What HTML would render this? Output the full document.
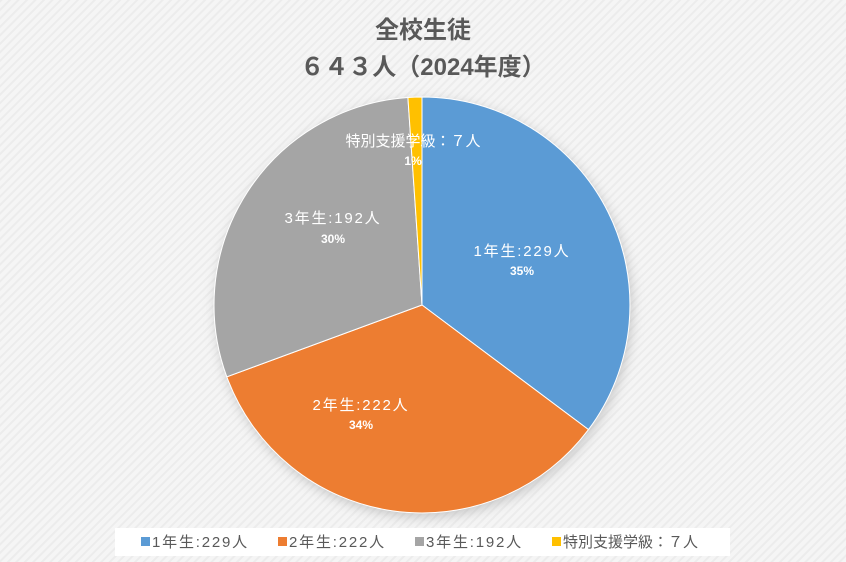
<!DOCTYPE html>
<html><head><meta charset="utf-8"><style>
body{margin:0;width:846px;height:562px;overflow:hidden;background:#f3f3f3;font-family:"Liberation Sans","Noto Sans CJK JP",sans-serif}
</style></head><body>
<svg width="846" height="562" xmlns="http://www.w3.org/2000/svg" style="position:absolute;left:0;top:0">
<defs>
<pattern id="p" width="6" height="6" patternUnits="userSpaceOnUse" patternTransform="rotate(-45)"><rect width="6" height="6" fill="#f5f5f5"/><rect width="6" height="2" fill="#ececec"/></pattern>
<filter id="sh" x="-20%" y="-20%" width="140%" height="140%"><feGaussianBlur stdDeviation="6"/></filter>
</defs>
<rect width="846" height="562" fill="url(#p)"/>
<text x="423" y="38" text-anchor="middle" font-size="24" font-weight="bold" fill="#595959" font-family="Liberation Sans,Noto Sans CJK JP,sans-serif">全校生徒</text>
<text x="423" y="75" text-anchor="middle" font-size="24" font-weight="bold" fill="#595959" font-family="Liberation Sans,Noto Sans CJK JP,sans-serif">６４３人（2024年度）</text>
<circle cx="424" cy="309" r="208" fill="#999" opacity="0.5" filter="url(#sh)"/>
<g stroke="#fff" stroke-width="1">
<path d="M422,305 L422,97 A208,208 0 0 1 588.5,429.6 Z" fill="#5b9bd5"/>
<path d="M422,305 L588.5,429.6 A208,208 0 0 1 226.8,376.8 Z" fill="#ed7d31"/>
<path d="M422,305 L226.8,376.8 A208,208 0 0 1 407.9,97.5 Z" fill="#a5a5a5"/>
<path d="M422,305 L407.9,97.5 A208,208 0 0 1 422,97 Z" fill="#ffc000"/>
</g>
<g fill="#fff" text-anchor="middle" font-family="Liberation Sans,Noto Sans CJK JP,sans-serif">
<text x="522" y="256" font-size="15" letter-spacing="1.8">1年生:229人</text>
<text x="522" y="275" font-size="12" font-weight="bold">35%</text>
<text x="361" y="410" font-size="15" letter-spacing="1.8">2年生:222人</text>
<text x="361" y="429" font-size="12" font-weight="bold">34%</text>
<text x="333" y="223" font-size="15" letter-spacing="1.8">3年生:192人</text>
<text x="333" y="243" font-size="12" font-weight="bold">30%</text>
<text x="413" y="146" font-size="15">特別支援学級：７人</text>
<text x="413" y="165" font-size="12" font-weight="bold">1%</text>
</g>
<rect x="115" y="528" width="615" height="28" fill="#fff"/>
<g font-size="15" fill="#595959" font-family="Liberation Sans,Noto Sans CJK JP,sans-serif" letter-spacing="1.8">
<rect x="141" y="537" width="9" height="9" fill="#5b9bd5"/><text x="152" y="547">1年生:229人</text>
<rect x="278" y="537" width="9" height="9" fill="#ed7d31"/><text x="289" y="547">2年生:222人</text>
<rect x="415" y="537" width="9" height="9" fill="#a5a5a5"/><text x="426" y="547">3年生:192人</text>
<rect x="552" y="537" width="9" height="9" fill="#ffc000"/><text x="563" y="547" letter-spacing="0">特別支援学級：７人</text>
</g>
</svg>
</body></html>
